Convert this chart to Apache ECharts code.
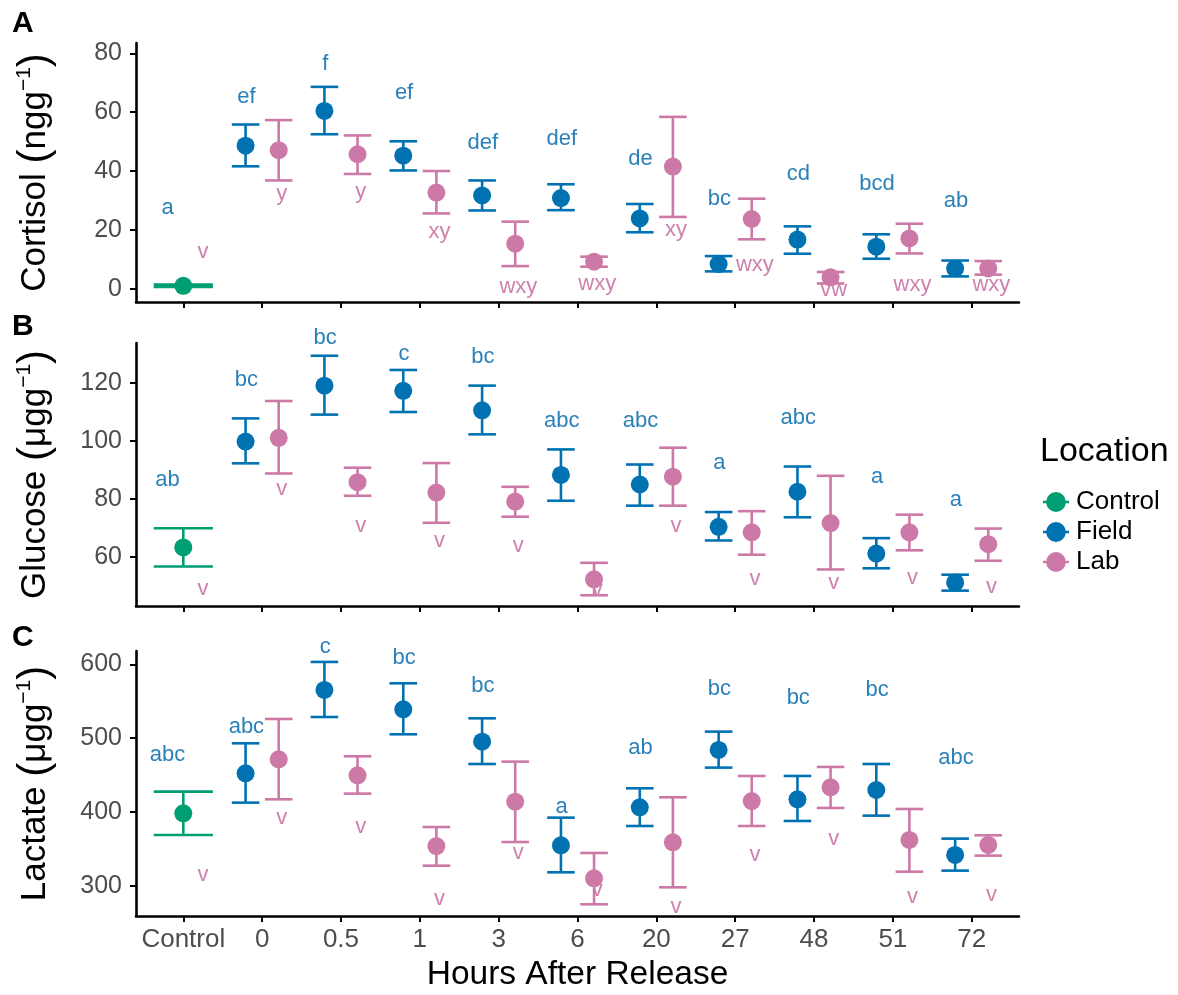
<!DOCTYPE html>
<html><head><meta charset="utf-8">
<script src="https://cdn.jsdelivr.net/npm/echarts@6/dist/echarts.min.js"></script>
<style>html,body{margin:0;padding:0;background:#fff}#c{width:1178px;height:995px}</style>
</head><body><div id="c"></div>
<script>
// ---------------- DATA ----------------
const categories = ['Control','0','0.5','1','3','6','20','27','48','51','72'];

// Control group (mean, lower, upper)
const controlCort = [1.0, 0.6, 1.4];
const controlGlu  = [63.2, 56.6, 69.8];
const controlLac  = [398.3, 369.0, 427.7];

// Field / Lab: categories '0' .. '72'
const fieldCortMean = [48.6, 60.4, 45.2, 31.7, 30.8, 23.9, 8.4, 16.7, 14.3, 6.9];
const fieldCortLo   = [41.6, 52.5, 40.2, 26.6, 26.7, 19.2, 5.9, 11.9, 10.2, 4.2];
const fieldCortHi   = [55.8, 68.6, 50.1, 36.8, 35.5, 28.8, 11.1, 21.2, 18.5, 9.6];
const labCortMean   = [47.1, 45.7, 32.7, 15.3, 9.2, 41.5, 23.7, 3.9, 17.1, 6.9];
const labCortLo     = [36.8, 39.0, 25.6, 7.7, 7.5, 24.4, 16.8, 1.8, 12.0, 4.8];
const labCortHi     = [57.3, 52.1, 40.0, 22.8, 10.9, 58.4, 30.6, 5.7, 22.1, 9.4];

const fieldGluMean = [99.7, 119.0, 117.2, 110.5, 88.2, 84.9, 70.3, 82.4, 61.1, 51.1];
const fieldGluLo   = [92.2, 109.0, 109.9, 102.2, 79.3, 77.6, 65.6, 73.6, 56.0, 48.3];
const fieldGluHi   = [107.7, 129.3, 124.4, 119.0, 97.0, 91.8, 75.4, 91.1, 66.4, 53.8];
const labGluMean   = [101.0, 85.7, 82.1, 79.0, 52.2, 87.6, 68.4, 71.6, 68.4, 64.3];
const labGluLo     = [88.7, 81.0, 71.7, 73.8, 46.7, 77.6, 60.7, 55.6, 62.2, 58.6];
const labGluHi     = [113.7, 90.7, 92.3, 84.1, 57.9, 97.6, 75.7, 87.9, 74.5, 69.7];

const fieldLacMean = [452.5, 565.3, 539.1, 495.3, 355.0, 406.5, 484.1, 417.3, 429.9, 342.0];
const fieldLacLo   = [412.8, 528.7, 505.3, 465.1, 318.5, 381.2, 460.2, 388.0, 395.2, 320.8];
const fieldLacHi   = [493.1, 603.2, 574.3, 526.9, 392.5, 432.2, 508.9, 448.9, 465.1, 364.1];
const labLacMean   = [471.4, 449.8, 354.1, 414.1, 310.4, 359.1, 415.0, 433.5, 362.3, 355.5];
const labLacLo     = [417.3, 425.0, 327.5, 359.5, 275.2, 298.2, 381.2, 405.6, 319.4, 341.1];
const labLacHi     = [526.0, 475.5, 379.8, 468.3, 344.7, 420.0, 448.9, 461.1, 404.2, 368.6];

// Significance letters (all 11 categories) and their heights
const cortFieldLetters = ['a','ef','f','ef','def','def','de','bc','cd','bcd','ab'];
const cortFieldLetterY = [27.6, 65.3, 76.3, 66.6, 49.4, 50.8, 44.0, 30.5, 39.0, 35.5, 29.8];
const cortLabLetters   = ['v','y','y','xy','wxy','wxy','xy','wxy','vw','wxy','wxy'];
const cortLabLetterY   = [12.6, 32.1, 33.0, 19.2, 0.7, 1.8, 19.9, 8.0, -0.5, 1.2, 1.2];

const gluFieldLetters = ['ab','bc','bc','c','bc','abc','abc','a','abc','a','a'];
const gluFieldLetterY = [86.4, 120.9, 135.5, 130.1, 129.0, 106.9, 106.9, 92.2, 107.7, 87.6, 79.5];
const gluLabLetters   = ['v','v','v','v','v','v','v','v','v','v','v'];
const gluLabLetterY   = [49.0, 83.2, 70.7, 65.5, 63.7, 48.7, 70.6, 52.2, 50.8, 52.8, 49.7];

const lacFieldLetters = ['abc','abc','c','bc','bc','a','ab','bc','bc','bc','abc'];
const lacFieldLetterY = [477.3, 514.7, 623.9, 608.1, 570.7, 407.4, 486.3, 566.6, 554.9, 565.3, 472.8];
const lacLabLetters   = ['v','v','v','v','v','v','v','v','v','v','v'];
const lacLabLetterY   = [314.9, 391.6, 380.3, 282.0, 344.2, 294.6, 272.0, 342.0, 363.2, 285.6, 287.8];

const cortTicks = [0, 20, 40, 60, 80];
const gluTicks  = [60, 80, 100, 120];
const lacTicks  = [300, 400, 500, 600];

// ---------------- STYLE ----------------
const FONT = "'Liberation Sans', Arial, Helvetica, sans-serif";
const COL = {Control:'#009E73', Field:'#0072B2', Lab:'#CC79A7'};
const LETTER_COL = {Field:'#2a80b9', Lab:'#cf80ad'};
const DODGE = 0.21, LAB_LETTER_DX = 0.25, FIELD_LETTER_DX = -0.2;
const CAP = 0.175, CTRL_CAP = 0.375;

const panels = [
  {key:'A', ctrl:controlCort, fm:fieldCortMean, fl:fieldCortLo, fh:fieldCortHi, lm:labCortMean, ll:labCortLo, lh:labCortHi,
   fL:cortFieldLetters, fY:cortFieldLetterY, lL:cortLabLetters, lY:cortLabLetterY, ticks:cortTicks, min:-4.5, max:83.5,
   name:'{t|Cortisol }{p|(}{t|ngg}{s|−1}{p|)}', grid:{left:136, top:43, width:883, height:259}},
  {key:'B', ctrl:controlGlu, fm:fieldGluMean, fl:fieldGluLo, fh:fieldGluHi, lm:labGluMean, ll:labGluLo, lh:labGluHi,
   fL:gluFieldLetters, fY:gluFieldLetterY, lL:gluLabLetters, lY:gluLabLetterY, ticks:gluTicks, min:43.0, max:133.7,
   name:'{t|Glucose }{p|(}{t|μgg}{s|−1}{p|)}', grid:{left:136, top:343, width:883, height:263}},
  {key:'C', ctrl:controlLac, fm:fieldLacMean, fl:fieldLacLo, fh:fieldLacHi, lm:labLacMean, ll:labLacLo, lh:labLacHi,
   fL:lacFieldLetters, fY:lacFieldLetterY, lL:lacLabLetters, lY:lacLabLetterY, ticks:lacTicks, min:259.4, max:618.0,
   name:'{t|Lactate }{p|(}{t|μgg}{s|−1}{p|)}', grid:{left:136, top:651, width:883, height:265}}
];

const catIdx = categories.map((c, i) => i);

function errRender(cap) {
  return function (params, api) {
    const x = api.value(0), lo = api.value(1), hi = api.value(2);
    const a = api.coord([x - cap, hi]), b = api.coord([x + cap, hi]);
    const c = api.coord([x - cap, lo]), d = api.coord([x + cap, lo]);
    const st = {stroke: api.visual('color'), lineWidth: 2.6, fill: null};
    return {type:'group', children:[
      {type:'line', shape:{x1:(a[0]+b[0])/2, y1:a[1], x2:(c[0]+d[0])/2, y2:c[1]}, style:st},
      {type:'line', shape:{x1:a[0], y1:a[1], x2:b[0], y2:b[1]}, style:st},
      {type:'line', shape:{x1:c[0], y1:c[1], x2:d[0], y2:d[1]}, style:st}
    ]};
  };
}
function textRender(labels, color) {
  return function (params, api) {
    const p = api.coord([api.value(0), api.value(1)]);
    return {type:'text', x:p[0], y:p[1], style:{text:labels[params.dataIndex], fill:color,
      font:'22px ' + FONT, textAlign:'center', textVerticalAlign:'middle'}};
  };
}

const grid = [], xAxis = [], yAxis = [], series = [];
panels.forEach((p, gi) => {
  grid.push(p.grid);
  const last = gi === panels.length - 1;
  xAxis.push({
    type:'value', gridIndex:gi, min:-0.6, max:10.6,
    axisLine:{show:true, onZero:false, lineStyle:{color:'#000', width:2.6}},
    axisTick:{show:true, customValues:catIdx, length:6, lineStyle:{color:'#000', width:2}},
    axisLabel:{show:last, customValues:catIdx, formatter:v => categories[Math.round(v)],
      fontSize:26, color:'#4d4d4d', margin:11, fontFamily:FONT},
    splitLine:{show:false},
    name: last ? 'Hours After Release' : '', nameLocation:'middle', nameGap:42,
    nameTextStyle:{fontSize:33.5, color:'#000', fontFamily:FONT}
  });
  yAxis.push({
    type:'value', gridIndex:gi, min:p.min, max:p.max,
    axisLine:{show:true, onZero:false, lineStyle:{color:'#000', width:2.6}},
    axisTick:{show:true, customValues:p.ticks, length:6, lineStyle:{color:'#000', width:2}},
    axisLabel:{customValues:p.ticks, fontSize:25, color:'#4d4d4d', margin:14, fontFamily:FONT},
    splitLine:{show:false},
    name:p.name, nameLocation:'middle', nameGap:80,
    nameTextStyle:{color:'#000', fontFamily:FONT, rich:{
      t:{fontSize:35, lineHeight:42, color:'#000', fontFamily:FONT},
      p:{fontSize:42, lineHeight:42, color:'#000', fontFamily:FONT},
      s:{fontSize:21, lineHeight:21, verticalAlign:'top', color:'#000', fontFamily:FONT}
    }}
  });

  const fieldErr = p.fm.map((m, i) => [i + 1 - DODGE, p.fl[i], p.fh[i]]);
  const labErr = p.lm.map((m, i) => [i + 1 + DODGE, p.ll[i], p.lh[i]]);
  series.push({type:'custom', name:'Control', xAxisIndex:gi, yAxisIndex:gi, color:COL.Control,
    renderItem:errRender(CTRL_CAP), data:[[0, p.ctrl[1], p.ctrl[2]]], z:2, silent:true});
  series.push({type:'custom', name:'Field', xAxisIndex:gi, yAxisIndex:gi, color:COL.Field,
    renderItem:errRender(CAP), data:fieldErr, z:2, silent:true});
  series.push({type:'custom', name:'Lab', xAxisIndex:gi, yAxisIndex:gi, color:COL.Lab,
    renderItem:errRender(CAP), data:labErr, z:2, silent:true});
  series.push({type:'scatter', name:'Control', xAxisIndex:gi, yAxisIndex:gi, symbolSize:18,
    itemStyle:{color:COL.Control, opacity:1}, data:[[0, p.ctrl[0]]], z:3, silent:true});
  series.push({type:'scatter', name:'Field', xAxisIndex:gi, yAxisIndex:gi, symbolSize:18,
    itemStyle:{color:COL.Field, opacity:1}, data:p.fm.map((m, i) => [i + 1 - DODGE, m]), z:3, silent:true});
  series.push({type:'scatter', name:'Lab', xAxisIndex:gi, yAxisIndex:gi, symbolSize:18,
    itemStyle:{color:COL.Lab, opacity:1}, data:p.lm.map((m, i) => [i + 1 + DODGE, m]), z:3, silent:true});
  series.push({type:'custom', xAxisIndex:gi, yAxisIndex:gi, renderItem:textRender(p.fL, LETTER_COL.Field),
    data:p.fY.map((y, i) => [i + FIELD_LETTER_DX, y]), z:4, silent:true});
  series.push({type:'custom', xAxisIndex:gi, yAxisIndex:gi, renderItem:textRender(p.lL, LETTER_COL.Lab),
    data:p.lY.map((y, i) => [i + LAB_LETTER_DX, y]), z:4, silent:true});
});

const keyIcon = 'path://M0,45 H100 V55 H0 Z M88,50 A38,38 0 1,1 12,50 A38,38 0 1,1 88,50 Z';
const option = {
  animation:false,
  backgroundColor:'#fff',
  textStyle:{fontFamily:FONT},
  grid, xAxis, yAxis, series,
  legend:{orient:'vertical', left:1038, top:484, itemWidth:26, itemHeight:20, itemGap:4,
    selectedMode:false,
    textStyle:{fontSize:26, color:'#000', fontFamily:FONT, padding:[0,0,0,2]},
    data:[{name:'Control', icon:keyIcon}, {name:'Field', icon:keyIcon}, {name:'Lab', icon:keyIcon}]},
  graphic:[
    {type:'text', left:1040, top:435, style:{text:'Location', font:'34px ' + FONT, fill:'#000'}},
    {type:'text', left:12, top:9, style:{text:'A', font:'bold 30px ' + FONT, fill:'#000'}},
    {type:'text', left:12, top:312, style:{text:'B', font:'bold 30px ' + FONT, fill:'#000'}},
    {type:'text', left:12, top:623, style:{text:'C', font:'bold 30px ' + FONT, fill:'#000'}}
  ]
};
const chart = echarts.init(document.getElementById('c'));
chart.setOption(option);
</script></body></html>
